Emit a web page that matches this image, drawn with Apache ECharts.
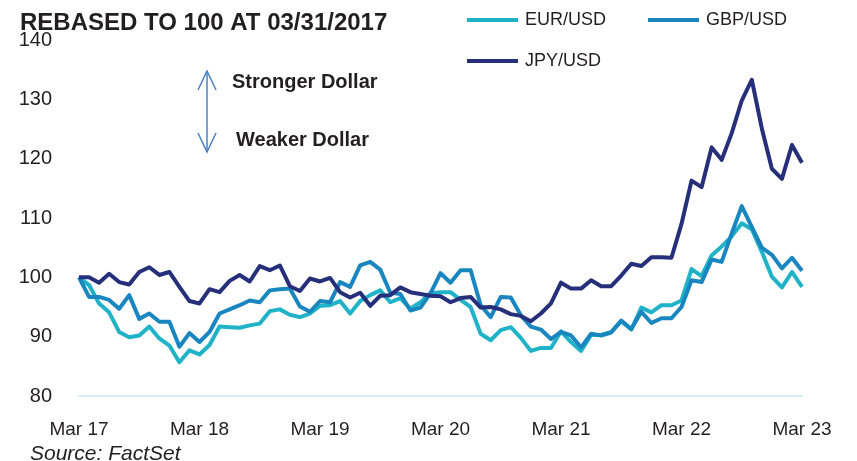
<!DOCTYPE html>
<html>
<head>
<meta charset="utf-8">
<script src="https://cdn.jsdelivr.net/npm/echarts@6/dist/echarts.min.js"></script>
<style>
html,body{margin:0;padding:0;background:#fff;}
#chart{width:857px;height:461px;}
</style>
</head>
<body>
<div id="chart"></div>
<script>
// Monthly observations, Mar 2017 .. Mar 2023 (73 months)
const months = [];
const monthNames = ['Jan','Feb','Mar','Apr','May','Jun','Jul','Aug','Sep','Oct','Nov','Dec'];
for (let k = 0; k < 73; k++) {
  const m = (2 + k) % 12;
  const y = 17 + Math.floor((2 + k) / 12);
  months.push(monthNames[m] + ' ' + y);
}
const yTicks = [80, 90, 100, 110, 120, 130, 140];

const eurUsd = [100,98.7,95.6,94.1,90.8,89.9,90.2,91.7,89.7,88.5,85.7,87.7,87.0,
  88.6,91.7,91.6,91.5,91.9,92.2,94.3,94.6,93.7,93.3,93.9,95.2,
  95.3,96.0,93.9,96.0,97.0,97.8,95.8,96.5,94.7,95.8,97.3,97.5,
  97.5,96.2,95.0,90.5,89.4,91.1,91.6,89.8,87.6,88.1,88.1,90.9,
  89.1,87.6,90.3,90.3,90.8,92.6,91.2,94.9,94.1,95.3,95.3,96.1,
  101.4,100.2,103.7,105.2,106.9,109.1,108.1,104.3,100.1,98.3,100.9,98.4];

const gbpUsd = [100,96.7,96.7,96.2,94.7,97.0,93.0,93.9,92.5,92.5,88.3,90.6,89.1,
  90.8,93.9,94.6,95.3,96.1,95.8,97.8,98.0,98.1,95.1,94.2,96.0,
  95.8,99.2,98.4,102.0,102.6,101.3,97.4,97.2,94.4,94.9,97.3,100.7,
  99.1,101.2,101.2,95.3,93.3,96.7,96.6,93.6,91.7,91.2,89.6,90.8,
  90.2,88.2,90.5,90.2,90.7,92.7,91.3,94.2,92.3,93.1,93.1,95.0,
  99.5,99.2,103.0,102.6,107.4,112.0,108.5,105.0,103.8,101.5,103.3,101.1];

const jpyUsd = [100,100,99.1,100.6,99.2,98.8,100.9,101.7,100.4,100.9,98.4,96.0,95.6,
  98.0,97.5,99.4,100.4,99.3,101.9,101.2,102.0,98.5,97.7,99.8,99.3,
  99.9,97.5,96.6,97.4,95.2,96.9,97.0,98.3,97.5,97.2,96.9,96.8,
  95.8,96.5,96.7,94.9,95.0,94.6,93.8,93.5,92.6,93.9,95.6,99.1,
  98.1,98.1,99.5,98.5,98.5,100.3,102.3,101.9,103.4,103.4,103.3,109.0,
  116.3,115.2,121.9,119.8,124.3,129.8,133.3,125.1,118.3,116.6,122.3,119.3];

const seriesNames = ['EUR/USD', 'GBP/USD', 'JPY/USD'];
const colors = ['#20b3c8', '#1a86c0', '#262f79'];

const chart = echarts.init(document.getElementById('chart'), null, {renderer: 'canvas'});
const FONT = '"Liberation Sans", Arial, Helvetica, sans-serif';

chart.setOption({
  animation: false,
  backgroundColor: '#ffffff',
  title: [
    {
      text: 'REBASED TO 100 AT 03/31/2017',
      left: 15, top: 6,
      textStyle: {fontFamily: FONT, fontSize: 24, fontWeight: 'bold', color: '#231f20'}
    },
    {
      text: 'Source: FactSet',
      left: 25, top: 439,
      textStyle: {fontFamily: FONT, fontSize: 21, fontStyle: 'italic', fontWeight: 'normal', color: '#231f20'}
    }
  ],
  legend: [
    {
      data: [seriesNames[0], seriesNames[1]],
      left: 462, top: 6,
      icon: 'rect', itemWidth: 51, itemHeight: 4, itemGap: 42,
      textStyle: {fontFamily: FONT, fontSize: 18, color: '#231f20', padding: [0,0,0,2]}
    },
    {
      data: [seriesNames[2]],
      left: 462, top: 47,
      icon: 'rect', itemWidth: 51, itemHeight: 4,
      textStyle: {fontFamily: FONT, fontSize: 18, color: '#231f20', padding: [0,0,0,2]}
    }
  ],
  grid: {left: 79, right: 55, top: 40, bottom: 65, containLabel: false},
  xAxis: {
    type: 'category',
    data: months,
    boundaryGap: false,
    axisLine: {show: true, lineStyle: {color: '#d7eef2', width: 2}},
    axisTick: {show: false},
    splitLine: {show: false},
    axisLabel: {
      interval: function (idx) { return idx % 12 === 0; },
      margin: 24,
      fontFamily: FONT, fontSize: 19, color: '#231f20'
    }
  },
  yAxis: {
    type: 'value',
    min: yTicks[0], max: yTicks[yTicks.length - 1], interval: 10,
    axisLine: {show: false},
    axisTick: {show: false},
    splitLine: {show: false},
    axisLabel: {margin: 27, fontFamily: FONT, fontSize: 20, color: '#231f20'}
  },
  graphic: [
    {
      type: 'group',
      children: [
        {type: 'line', shape: {x1: 207, y1: 71, x2: 207, y2: 152}, style: {stroke: '#4a80c4', lineWidth: 1.5}},
        {type: 'polyline', shape: {points: [[198, 90], [207, 71], [216, 90]]}, style: {stroke: '#4a80c4', lineWidth: 1.5, fill: null}},
        {type: 'polyline', shape: {points: [[198, 133], [207, 152], [216, 133]]}, style: {stroke: '#4a80c4', lineWidth: 1.5, fill: null}}
      ]
    },
    {type: 'text', left: 232, top: 72, style: {text: 'Stronger Dollar', font: 'bold 20px ' + FONT, fill: '#231f20'}},
    {type: 'text', left: 236, top: 130, style: {text: 'Weaker Dollar', font: 'bold 20px ' + FONT, fill: '#231f20'}}
  ],
  series: [
    {name: seriesNames[0], type: 'line', data: eurUsd, color: colors[0], showSymbol: false, lineStyle: {width: 4, join: 'round'}, z: 2},
    {name: seriesNames[1], type: 'line', data: gbpUsd, color: colors[1], showSymbol: false, lineStyle: {width: 4, join: 'round'}, z: 3},
    {name: seriesNames[2], type: 'line', data: jpyUsd, color: colors[2], showSymbol: false, lineStyle: {width: 4, join: 'round'}, z: 4}
  ]
});
</script>
</body>
</html>
